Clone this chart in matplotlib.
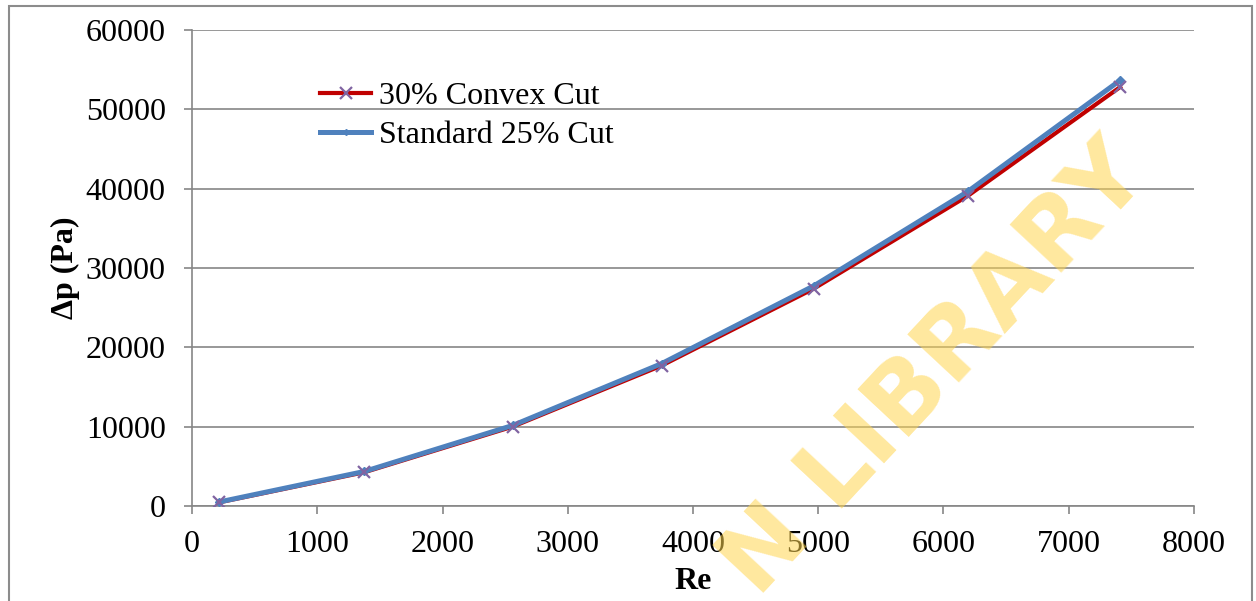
import matplotlib
matplotlib.use('Agg')
import matplotlib.pyplot as plt
from matplotlib.lines import Line2D
from matplotlib.patches import Rectangle

# Data
re_values = [215, 1375, 2560, 3750, 4965, 6195, 7410]
dp_convex = [450, 4250, 10000, 17700, 27400, 39100, 52800]
dp_standard = [500, 4350, 10150, 17950, 27750, 39650, 53650]
x_ticks = [0, 1000, 2000, 3000, 4000, 5000, 6000, 7000, 8000]
y_ticks = [0, 10000, 20000, 30000, 40000, 50000, 60000]

plt.rcParams['font.family'] = ['Liberation Serif', 'DejaVu Serif']

fig = plt.figure(figsize=(12.56, 6.01), dpi=100)
ax = fig.add_axes([0.1529, 0.1581, 0.7977, 0.7920])

grid_gray = '#868686'
red = '#C00000'
blue = '#4F81BD'
purple = '#8064A2'

# Excel-style chart border
fig.patches.append(Rectangle((9 / 1256, -0.1), (1252 - 9) / 1256, 1.1 - 6 / 601,
                             transform=fig.transFigure, fill=False,
                             edgecolor='#8C8C8C', linewidth=1.5))

# watermark
fig.text(0.745, 0.385, 'N LIBRARY', fontsize=70, fontweight='bold',
         family='DejaVu Sans', color='#FFD54F', alpha=0.55, rotation=47,
         ha='center', va='center', zorder=0)

ax.plot(re_values, dp_convex, color=red, linewidth=3, zorder=3)
ax.plot(re_values, dp_standard, color=blue, linewidth=3.6, zorder=4,
        marker='D', markersize=4, markerfacecolor=blue, markeredgecolor=blue)
ax.plot(re_values, dp_convex, linestyle='none', marker='x', markersize=9,
        markeredgewidth=1.6, color=purple, zorder=5)

ax.set_xlim(0, 8000)
ax.set_ylim(0, 60000)
ax.set_xticks(x_ticks)
ax.set_yticks(y_ticks)
ax.tick_params(axis='both', labelsize=23, direction='out', length=6,
               width=1.2, color=grid_gray)
ax.tick_params(axis='y', pad=13)
ax.tick_params(axis='x', pad=11)
ax.yaxis.grid(True, color=grid_gray, linewidth=1.2)
ax.set_axisbelow(True)
ax.patch.set_alpha(0)
for side in ['top', 'right']:
    ax.spines[side].set_visible(False)
for side in ['left', 'bottom']:
    ax.spines[side].set_color(grid_gray)
    ax.spines[side].set_linewidth(1.2)

ax.set_xlabel('Re', fontsize=23, fontweight='bold', labelpad=6)
ax.set_ylabel('Δp (Pa)', fontsize=23, fontweight='bold', labelpad=4)

handles = [
    Line2D([], [], color=red, linewidth=3, marker='x', markersize=9,
           markeredgewidth=1.6, markeredgecolor=purple),
    Line2D([], [], color=blue, linewidth=3.6, marker='D', markersize=3,
           markerfacecolor=blue),
]
ax.legend(handles, ['30% Convex Cut', 'Standard 25% Cut'], loc='upper left',
          bbox_to_anchor=(0.115, 0.918), frameon=False, fontsize=23,
          handlelength=1.6, handletextpad=0.25, labelspacing=0.3,
          borderaxespad=0)

fig.savefig('out.png', dpi=100)
